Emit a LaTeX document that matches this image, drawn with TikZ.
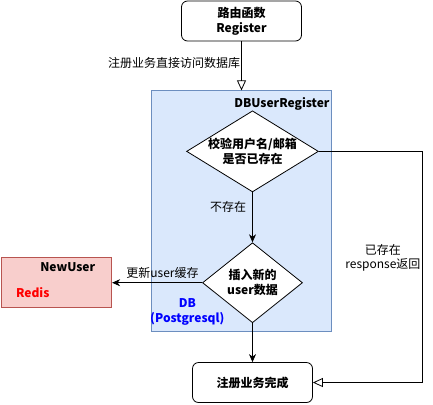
\documentclass[tikz,border=0pt]{standalone}
\usepackage{fontspec}
\setmainfont{Noto Sans CJK SC}
\usetikzlibrary{shapes.geometric}
\usetikzlibrary{positioning}
\usetikzlibrary{arrows.meta}
\definecolor{groupfill}{HTML}{DAE8FC}
\definecolor{groupline}{HTML}{6C8EBF}
\definecolor{cachefill}{HTML}{F8CECC}
\definecolor{cacheline}{HTML}{B85450}
\definecolor{dbblue}{HTML}{0000FF}
\definecolor{redisred}{HTML}{FF0000}
\tikzset{x=1pt, y=1pt,
    node distance=40pt,
    every node/.style={
        font=\fontsize{12}{14}\selectfont},
    boldtext/.style={
        font=\bfseries\fontsize{12}{15}\selectfont},
    stepbox/.style={
        draw, thick,
        rounded corners=6pt,
        fill=white,
        minimum width=120pt,
        minimum height=40pt,
        align=center,
        boldtext},
    decision/.style={
        diamond, draw, thick,
        fill=white,
        inner sep=0pt,
        align=center,
        boldtext},
    groupbox/.style={
        draw=groupline,
        fill=groupfill,
        minimum width=180pt,
        minimum height=241pt},
    cachebox/.style={
        draw=cacheline,
        fill=cachefill,
        thick,
        minimum width=110pt,
        minimum height=50pt},
    openhead/.style={-{Triangle[open,length=10pt,width=9pt]}},
    every edge/.style={
        draw,
        -{Stealth[length=8pt,width=7pt,inset=2.5pt]},
        thick}}

\begin{document}
\begin{tikzpicture}
        \useasboundingbox (0,0) rectangle (433,-404);
        \node[stepbox] (reg) at (241.5,-21) {路由函数\\Register};
        \node[groupbox,below=49pt of reg] (db) {};
        \node[boldtext,inner sep=1pt,below left=6pt and 1pt of db.north east] (dbname) {DBUserRegister};
        \node[decision,shape aspect=1.625,minimum width=130pt,minimum height=80pt,below=20pt of db.north,xshift=11pt] (check) {校验用户名/邮箱\\是否已存在};
        \node[decision,shape aspect=1.25,minimum width=100pt,minimum height=80pt,below=50pt of check] (insert) {插入新的\\user数据};
        \node[stepbox,below=39pt of insert] (final) {注册业务完成};
        \node[cachebox,left=90pt of insert] (cache) {};
        \node[boldtext] (cachename) at ([xshift=11pt,yshift=-10pt]cache.north) {NewUser};
        \node[boldtext,text=redisred] (redis) at ([xshift=-24pt,yshift=-35pt]cache.north) {Redis};
        \node[boldtext,text=dbblue,align=center] (dbkind) at ([xshift=36pt,yshift=20pt]db.south west) {DB\\(Postgresql)};

        \draw (reg.south) edge[openhead] node[left,pos=0.43,inner sep=1pt] {注册业务直接访问数据库} (reg.south |- db.north);
        \draw (check) edge node[left=6pt,pos=0.3,inner sep=0pt] {不存在} (insert);
        \draw (insert) edge node[above=4pt,pos=0.44,inner sep=0pt] {更新user缓存} (cache);
        \draw (insert) edge (final);
        \draw[thick,openhead] (check.east) -- ++(104,0) |- node[left,pos=0.23,inner sep=2pt,align=center] {已存在\\response返回} (final.east);
    \end{tikzpicture}
\end{document}
